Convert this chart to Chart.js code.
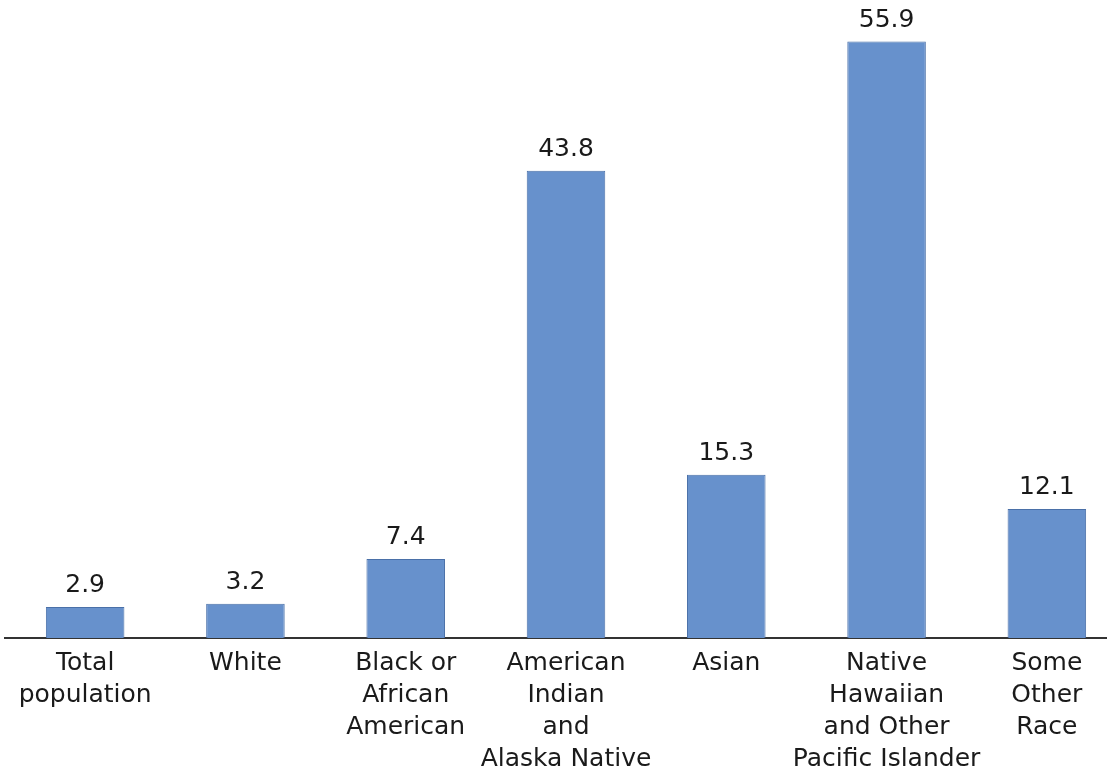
<!DOCTYPE html>
<html>
<head>
<meta charset="utf-8">
<script src="https://cdn.jsdelivr.net/npm/chart.js@4"></script>
<style>
  html, body { margin: 0; padding: 0; background: #fff; overflow: hidden; }
  #wrap { width: 1140px; height: 784px; }
</style>
</head>
<body>
<div id="wrap"><canvas id="myChart" width="1140" height="784"></canvas></div>
<script>
var categories = [
  ["Total", "population"],
  ["White"],
  ["Black or", "African", "American"],
  ["American", "Indian", "and", "Alaska Native"],
  ["Asian"],
  ["Native", "Hawaiian", "and Other", "Pacific Islander"],
  ["Some", "Other", "Race"]
];
var values = [2.9, 3.2, 7.4, 43.8, 15.3, 55.9, 12.1];

var FONT = "'DejaVu Sans', Verdana, sans-serif";

// value labels above each bar
var valueLabels = {
  id: "valueLabels",
  afterDatasetsDraw: function (chart) {
    var ctx = chart.ctx;
    var meta = chart.getDatasetMeta(0);
    ctx.save();
    ctx.font = "25px " + FONT;
    ctx.fillStyle = "#1a1a1a";
    ctx.textAlign = "center";
    ctx.textBaseline = "alphabetic";
    meta.data.forEach(function (bar, i) {
      ctx.fillText(values[i].toFixed(1), bar.x, bar.y - 15);
    });
    ctx.restore();
  },
};

var ctx = document.getElementById("myChart").getContext("2d");
var chart = new Chart(ctx, {
  type: "bar",
  data: {
    labels: categories,
    datasets: [
      {
        data: values,
        backgroundColor: "#6791cc",
        borderColor: "#4a70a8",
        borderWidth: 1,
        categoryPercentage: 1,
        barPercentage: 0.49,
      },
    ],
  },
  options: {
    responsive: false,
    animation: false,
    layout: { padding: { left: 5, right: 13, top: 0, bottom: 0 } },
    plugins: {
      legend: { display: false },
      tooltip: { enabled: false },
    },
    scales: {
      x: {
        grid: { display: false, drawTicks: false },
        border: { display: true, color: "#333", width: 2 },
        ticks: {
          color: "#1a1a1a",
          padding: 9,
          maxRotation: 0,
          autoSkip: false,
          font: { family: FONT, size: 25, lineHeight: 1.28 },
        },
      },
      y: {
        display: false,
        min: 0,
        max: 59.8,
      },
    },
  },
  plugins: [valueLabels],
});
</script>
</body>
</html>
